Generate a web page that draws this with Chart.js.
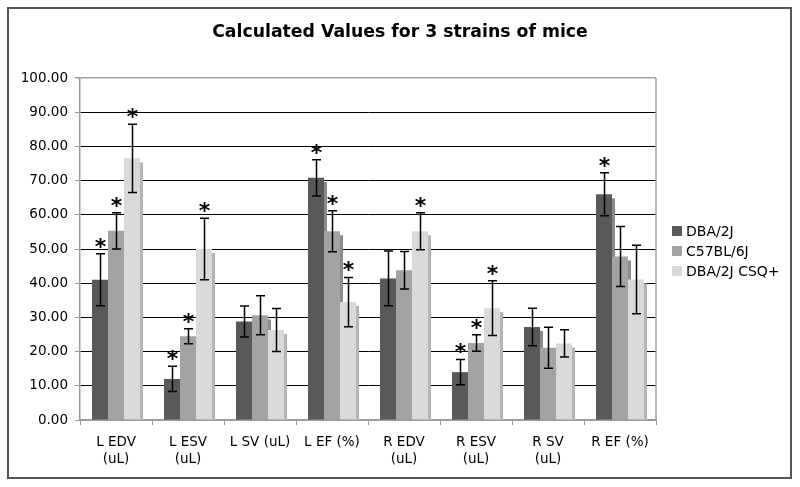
<!DOCTYPE html>
<html>
<head>
<meta charset="utf-8">
<script src="https://cdn.jsdelivr.net/npm/chart.js@4.4.1/dist/chart.umd.min.js"></script>
<style>
  html, body { margin: 0; padding: 0; background: #fff; }
  #wrap { position: relative; width: 800px; height: 487px; }
  canvas { display: block; }
</style>
</head>
<body>
<div id="wrap"><canvas id="c" width="800" height="487"></canvas></div>
<script>
// ---- data ----
const chartTitle = 'Calculated Values for 3 strains of mice';
const categories = [['L EDV', '(uL)'], ['L ESV', '(uL)'], 'L SV (uL)', 'L EF (%)', ['R EDV', '(uL)'], ['R ESV', '(uL)'], ['R SV', '(uL)'], 'R EF (%)'];
const seriesNames = ['DBA/2J', 'C57BL/6J', 'DBA/2J CSQ+'];
const dbaValues = [41.0, 12.0, 28.8, 70.8, 41.4, 14.0, 27.2, 66.0];
const c57Values = [55.3, 24.5, 30.6, 55.2, 43.8, 22.5, 21.1, 47.8];
const csqValues = [76.5, 50.0, 26.3, 34.5, 55.2, 32.7, 22.4, 41.1];
const dbaErrors = [7.6, 3.7, 4.5, 5.3, 8.0, 3.7, 5.5, 6.3];
const c57Errors = [5.3, 2.2, 5.7, 6.0, 5.5, 2.4, 6.0, 8.8];
const csqErrors = [10.0, 9.0, 6.3, 7.2, 5.4, 8.0, 4.0, 10.0];
const dbaSignificant = [1, 1, 0, 1, 0, 1, 0, 1];
const c57Significant = [1, 1, 0, 1, 0, 1, 0, 0];
const csqSignificant = [1, 1, 0, 1, 1, 1, 0, 0];
const yTicks = [0, 10, 20, 30, 40, 50, 60, 70, 80, 90, 100];

const colors = ['#595959', '#a3a3a3', '#d9d9d9'];
const shadowColors = ['#8a8a8a', '#8c8c8c', '#b4b4b4'];
const FONT = "'DejaVu Sans', Verdana, sans-serif";

const errorSets = [dbaErrors, c57Errors, csqErrors];
const sigSets = [dbaSignificant, c57Significant, csqSignificant];

const shadowPlugin = {
  id: 'barShadow',
  beforeDatasetsDraw(chart) {
    const ctx = chart.ctx;
    const yScale = chart.scales.y;
    ctx.save();
    chart.data.datasets.forEach((ds, di) => {
      const meta = chart.getDatasetMeta(di);
      meta.data.forEach((el) => {
        const right = el.x + el.width / 2;
        ctx.fillStyle = shadowColors[di];
        ctx.fillRect(right, el.y + 4, 3, yScale.getPixelForValue(0) - el.y - 4);
      });
    });
    ctx.restore();
  }
};

const errorPlugin = {
  id: 'errorBars',
  afterDatasetsDraw(chart) {
    const ctx = chart.ctx;
    const yScale = chart.scales.y;
    ctx.save();
    ctx.strokeStyle = '#000';
    ctx.lineWidth = 1.5;
    ctx.fillStyle = '#000';
    ctx.font = "bold 22px " + FONT;
    ctx.textAlign = 'center';
    ctx.textBaseline = 'alphabetic';
    const m = ctx.measureText('*');
    chart.data.datasets.forEach((ds, di) => {
      const meta = chart.getDatasetMeta(di);
      meta.data.forEach((el, i) => {
        const v = ds.data[i];
        const e = errorSets[di][i];
        const x = Math.round(el.x) + 0.5;
        const yTop = yScale.getPixelForValue(v + e);
        const yBot = yScale.getPixelForValue(v - e);
        ctx.beginPath();
        ctx.moveTo(x, yTop); ctx.lineTo(x, yBot);
        ctx.moveTo(x - 4.5, yTop); ctx.lineTo(x + 4.5, yTop);
        ctx.moveTo(x - 4.5, yBot); ctx.lineTo(x + 4.5, yBot);
        ctx.stroke();
        if (sigSets[di][i]) {
          const glyphBottom = yTop - 6;
          const baseline = glyphBottom - m.actualBoundingBoxDescent;
          ctx.fillText('*', x, baseline);
        }
      });
    });
    ctx.restore();
  }
};

const framePlugin = {
  id: 'frame',
  afterDraw(chart) {
    const ctx = chart.ctx;
    const a = chart.chartArea;
    ctx.save();
    // plot area right border
    ctx.strokeStyle = '#a0a0a0';
    ctx.lineWidth = 1.5;
    ctx.beginPath();
    ctx.moveTo(a.right, a.top); ctx.lineTo(a.right, a.bottom);
    ctx.stroke();
    // outer border
    ctx.strokeStyle = '#555';
    ctx.lineWidth = 2;
    ctx.strokeRect(8, 8, 783, 470);
    // title
    ctx.fillStyle = '#000';
    ctx.font = "bold 17.3px " + FONT;
    ctx.textAlign = 'center';
    ctx.textBaseline = 'middle';
    ctx.fillText(chartTitle, 400, 33);
    // legend
    ctx.font = "14px " + FONT;
    ctx.textAlign = 'left';
    ctx.textBaseline = 'middle';
    const ys = [231, 251, 271];
    chart.data.datasets.forEach((ds, di) => {
      ctx.fillStyle = colors[di];
      ctx.fillRect(672, ys[di] - 5, 10, 10);
      ctx.fillStyle = '#000';
      ctx.fillText(ds.label, 686, ys[di] + 1);
    });
    ctx.restore();
  }
};

new Chart(document.getElementById('c'), {
  type: 'bar',
  data: {
    labels: categories,
    datasets: [
      { label: seriesNames[0], data: dbaValues, backgroundColor: colors[0] },
      { label: seriesNames[1], data: c57Values, backgroundColor: colors[1] },
      { label: seriesNames[2], data: csqValues, backgroundColor: colors[2] }
    ]
  },
  options: {
    responsive: false,
    animation: false,
    devicePixelRatio: 1,
    layout: { padding: { left: 8, top: 78, right: 144, bottom: 8 } },
    datasets: { bar: { categoryPercentage: 0.667, barPercentage: 1.0, borderWidth: 0 } },
    plugins: {
      legend: { display: false },
      tooltip: { enabled: false },
      title: { display: false }
    },
    scales: {
      x: {
        grid: { display: true, drawOnChartArea: false, offset: true, tickLength: 5, tickColor: '#999' },
        border: { display: true, color: '#999', width: 1.5 },
        ticks: { color: '#000', font: { family: FONT, size: 13.5, lineHeight: 1.28 }, maxRotation: 0, autoSkip: false, padding: 9 },
        afterFit(s) { s.height = 59; }
      },
      y: {
        min: 0, max: 100,
        afterBuildTicks(s) { s.ticks = yTicks.map(v => ({ value: v })); },
        grid: {
          color: (c) => (c.tick && (c.tick.value === 100 || c.tick.value === 0)) ? '#a0a0a0' : '#000',
          lineWidth: (c) => (c.tick && c.tick.value === 100) ? 1.5 : 1,
          tickColor: '#999', tickLength: 5
        },
        border: { display: true, color: '#999', width: 1.5 },
        ticks: { color: '#000', font: { family: FONT, size: 13.5 }, padding: 7, callback: (v) => Number(v).toFixed(2) },
        afterFit(s) { s.width = 72; }
      }
    }
  },
  plugins: [shadowPlugin, errorPlugin, framePlugin]
});
</script>
</body>
</html>
